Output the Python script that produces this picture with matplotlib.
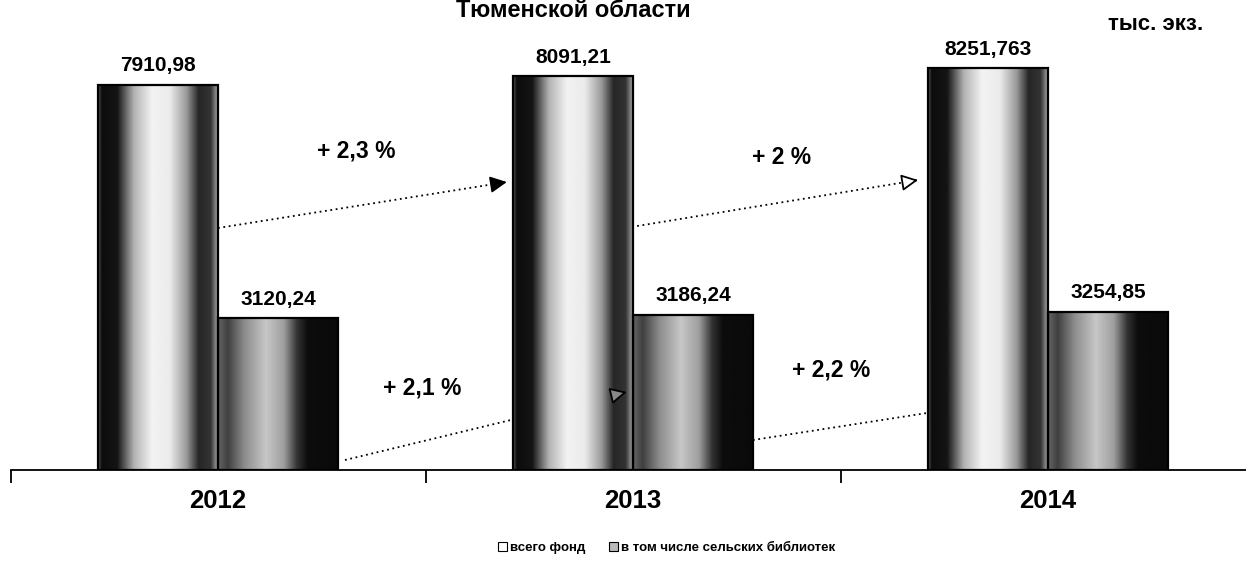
import numpy as np
import matplotlib
matplotlib.use('Agg')
import matplotlib.pyplot as plt
from matplotlib.patches import Rectangle

plt.rcParams['font.family'] = ['Liberation Sans', 'DejaVu Sans']

# ---- data ----
years = ['2012', '2013', '2014']
total_fund = [7910.98, 8091.21, 8251.763]
rural_fund = [3120.24, 3186.24, 3254.85]
total_labels = ['7910,98', '8091,21', '8251,763']
rural_labels = ['3120,24', '3186,24', '3254,85']
growth_total = ['+ 2,3 %', '+ 2 %']
growth_rural = ['+ 2,1 %', '+ 2,2 %']
series_names = ['всего фонд', 'в том числе сельских библиотек']
title = 'Тюменской области'
unit = 'тыс. экз.'

# ---- layout / style ----
W, H = 1246, 562
fig = plt.figure(figsize=(W / 100, H / 100), dpi=100)
ax = fig.add_axes([10.5 / W, 1 - 470 / H, 1245 / W, 430 / H])
x = np.arange(len(years))
bw = 0.289

bars_total = ax.bar(x - bw / 2, total_fund, bw, facecolor='none',
                    edgecolor='black', linewidth=1.6, zorder=3)
bars_rural = ax.bar(x + bw / 2, rural_fund, bw, facecolor='none',
                    edgecolor='black', linewidth=1.6, zorder=3)

big_t = [0.0, 0.03, 0.16, 0.30, 0.45, 0.60, 0.74, 0.84, 0.94, 1.0]
big_v = [0.35, 0.05, 0.08, 0.70, 0.95, 0.92, 0.60, 0.15, 0.20, 0.65]
small_t = [0.0, 0.08, 0.22, 0.40, 0.55, 0.66, 0.75, 1.0]
small_v = [0.40, 0.25, 0.55, 0.78, 0.62, 0.20, 0.05, 0.04]


def fill_gradient(bar, pt, pv):
    x0, y0 = bar.get_x(), bar.get_y()
    w, h = bar.get_width(), bar.get_height()
    t = np.linspace(0, 1, 300)
    g = np.interp(t, pt, pv)[None, :]
    im = ax.imshow(g, extent=[x0, x0 + w, y0, y0 + h], aspect='auto',
                   cmap='gray', vmin=0, vmax=1, zorder=2.5,
                   interpolation='bilinear')
    im.set_clip_path(bar)


for b in bars_total:
    fill_gradient(b, big_t, big_v)
for b in bars_rural:
    fill_gradient(b, small_t, small_v)

ax.set_xlim(-0.5, 2.5)
ax.set_ylim(0, 8835)

# value labels
for b, lab in zip(bars_total, total_labels):
    ax.annotate(lab, (b.get_x() + b.get_width() / 2, b.get_height()),
                xytext=(0, 19), textcoords='offset pixels', ha='center',
                va='center', fontsize=15, fontweight='bold', zorder=6)
for b, lab in zip(bars_rural, rural_labels):
    ax.annotate(lab, (b.get_x() + b.get_width() / 2, b.get_height()),
                xytext=(0, 19), textcoords='offset pixels', ha='center',
                va='center', fontsize=15, fontweight='bold', zorder=6)

# growth arrows (annotation geometry)
arrows = [
    dict(start=(0.0, 4972), end=(0.696, 5917), fc='black', top=True),
    dict(start=(1.01, 5013), end=(1.687, 5958), fc='white', top=True),
    dict(start=(0.306, 205), end=(0.985, 1602), fc='#888888', top=True),
    dict(start=(1.289, 616), end=(1.988, 1541), fc='black', top=False),
]
for a in arrows:
    (x0, y0), (x1, y1) = a['start'], a['end']
    ax.plot([x0, x1], [y0, y1], color='black', lw=1.3,
            linestyle=(0, (1, 2)), zorder=1.5)
    bx, by = x1 - 0.04 * (x1 - x0), y1 - 0.04 * (y1 - y0)
    ax.annotate('', xy=(x1, y1), xytext=(bx, by),
                arrowprops=dict(arrowstyle='-|>,head_length=1.0,head_width=0.5',
                                color='black', fc=a['fc'], lw=1.3,
                                shrinkA=0, shrinkB=0),
                zorder=5 if a['top'] else 1.5)

growth_pos_total = [(0.333, 6554), (1.357, 6411)]
growth_pos_rural = [(0.492, 1685), (1.477, 2055)]
for lab, (gx, gy) in zip(growth_total, growth_pos_total):
    ax.text(gx, gy, lab, ha='center', va='center', fontsize=16.5,
            fontweight='bold', zorder=6)
for lab, (gx, gy) in zip(growth_rural, growth_pos_rural):
    ax.text(gx, gy, lab, ha='center', va='center', fontsize=16.5,
            fontweight='bold', zorder=6)

# axes styling
for s in ['top', 'left', 'right']:
    ax.spines[s].set_visible(False)
ax.spines['bottom'].set_linewidth(1.3)
ax.set_yticks([])
ax.set_xticks(x)
ax.set_xticklabels(years, fontsize=18.5, fontweight='bold')
ax.tick_params(axis='x', which='major', length=0, pad=14)
ax.set_xticks([-0.5, 0.5, 1.5, 2.5], minor=True)
ax.tick_params(axis='x', which='minor', length=9, width=1.3,
               direction='out')

# title and unit
fig.text(573 / W, 1 - 17 / H, title, ha='center', va='baseline',
         fontsize=17, fontweight='bold')
fig.text(1156 / W, 1 - 24 / H, unit, ha='center', va='center',
         fontsize=16, fontweight='bold')

# legend
handles = [Rectangle((0, 0), 1, 1, facecolor='white', edgecolor='black', lw=0.8),
           Rectangle((0, 0), 1, 1, facecolor='#bbbbbb', edgecolor='black', lw=0.8)]
fig.legend(handles, series_names, loc='center', bbox_to_anchor=(0.535, 1 - 548 / H),
           ncol=2, frameon=False, prop=dict(weight='bold', size=9.5),
           handlelength=0.7, handleheight=0.7, handletextpad=0.2,
           columnspacing=1.8)

fig.savefig('out.png', dpi=100)
